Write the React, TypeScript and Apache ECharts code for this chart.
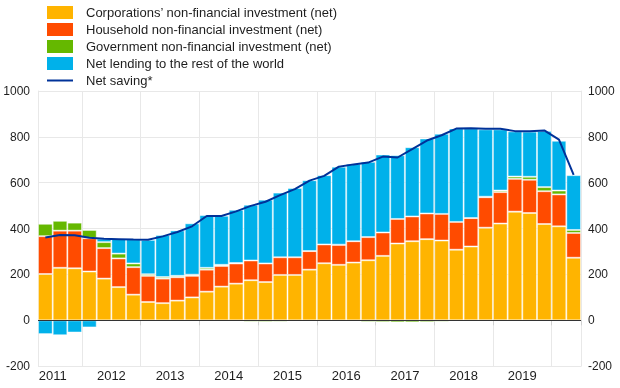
import React, { useEffect, useRef } from "react";
import * as echarts from "echarts";

const categories = [
  "2011Q2", "2011Q3", "2011Q4",
  "2012Q1", "2012Q2", "2012Q3", "2012Q4",
  "2013Q1", "2013Q2", "2013Q3", "2013Q4",
  "2014Q1", "2014Q2", "2014Q3", "2014Q4",
  "2015Q1", "2015Q2", "2015Q3", "2015Q4",
  "2016Q1", "2016Q2", "2016Q3", "2016Q4",
  "2017Q1", "2017Q2", "2017Q3", "2017Q4",
  "2018Q1", "2018Q2", "2018Q3", "2018Q4",
  "2019Q1", "2019Q2", "2019Q3", "2019Q4",
  "2020Q1", "2020Q2",
];

const corporations = [202, 229, 227, 213, 182, 145, 112, 80, 75, 86, 100, 125, 147, 160, 175, 167, 198, 198, 221, 249, 242, 252, 262, 281, 335, 345, 354, 348, 308, 322, 404, 422, 474, 468, 420, 410, 273];
const households = [165, 162, 164, 145, 133, 125, 120, 114, 107, 102, 94, 96, 90, 88, 86, 81, 77, 77, 81, 82, 87, 93, 101, 102, 107, 108, 112, 116, 121, 124, 133, 137, 143, 145, 143, 139, 108];
const government = [54, 43, 35, 36, 26, 21, 16, 7, 7, 6, 5, 8, 5, 2, -6, -7, -6, -2, 0, 0, 1, 0, -7, -8, -9, -9, -8, -6, -2, 0, 2, 7, 10, 13, 18, 17, 13];
const netLending = [-60, -65, -53, -31, 15, 65, 106, 150, 183, 198, 224, 230, 214, 232, 243, 278, 282, 302, 309, 302, 340, 338, 328, 340, 278, 302, 327, 350, 408, 391, 294, 267, 197, 197, 245, 217, 239];
const netSaving = [361, 372, 371, 360, 356, 354, 352, 351, 366, 385, 410, 455, 455, 475, 499, 517, 546, 572, 609, 630, 670, 680, 688, 714, 710, 747, 784, 807, 836, 838, 835, 835, 825, 824, 828, 788, 634];

const yTicks = { min: -200, max: 1000, interval: 200 };
const yearLabels = ["2011", "2012", "2013", "2014", "2015", "2016", "2017", "2018", "2019"];

const names = [
  "Corporations\u2019 non-financial investment (net)",
  "Household non-financial investment (net)",
  "Government non-financial investment (net)",
  "Net lending to the rest of the world",
  "Net saving*",
];
const colors = ["#FFB400", "#FF4B00", "#65B800", "#00B1EA", "#003299"];

const FONT = "'Liberation Sans', Arial, sans-serif";
const TEXT = "#1e1e1e";
const GRID = "#e8e8e8";

export default function App() {
  const ref = useRef<HTMLDivElement>(null);
  useEffect(() => {
    if (!ref.current) return;
    const chart = echarts.init(ref.current, undefined, { renderer: "svg" });
    const yearBoundary = (i: number) => i % 4 === 3;
    const barStyle = (c: string) => ({
      color: c,
      borderColor: "rgba(255,255,255,0.45)",
      borderWidth: 1,
    });
    const barSeries = [corporations, households, government, netLending].map((d, k) => ({
      name: names[k],
      type: "bar",
      stack: "total",
      data: d,
      barCategoryGap: "0%",
      itemStyle: barStyle(colors[k]),
      emphasis: { disabled: true },
    }));
    chart.setOption({
      animation: false,
      textStyle: { fontFamily: FONT },
      legend: {
        orient: "vertical",
        left: 47,
        top: 6,
        padding: 0,
        itemWidth: 26,
        itemHeight: 13,
        itemGap: 4,
        symbolKeepAspect: true,
        itemStyle: { borderWidth: 0 },
        textStyle: { fontSize: 13, color: TEXT, fontFamily: FONT, padding: [0, 0, 0, 8] },
        data: [
          { name: names[0], icon: "rect" },
          { name: names[1], icon: "rect" },
          { name: names[2], icon: "rect" },
          { name: names[3], icon: "rect" },
          { name: names[4], icon: "path://M0,0H26V2H0Z" },
        ],
        selectedMode: false,
      },
      grid: { left: 38, right: 39, top: 91, bottom: 21.8, containLabel: false },
      xAxis: {
        type: "category",
        data: categories,
        boundaryGap: true,
        axisLine: { show: false },
        axisTick: {
          show: true,
          interval: yearBoundary,
          length: 5,
          lineStyle: { color: "#d0d0d0" },
        },
        splitLine: { show: true, interval: yearBoundary, lineStyle: { color: GRID, width: 1 } },
        axisLabel: {
          interval: (i: number) => i % 4 === 0 && yearLabels.includes(categories[i].slice(0, 4)),
          formatter: (v: string) => v.slice(0, 4),
          fontSize: 13,
          color: TEXT,
          fontFamily: FONT,
          margin: 3,
          padding: [0, 0, 0, 14.7],
        },
      },
      yAxis: [
        {
          type: "value",
          position: "left",
          ...yTicks,
          axisLine: { show: true, lineStyle: { color: GRID } },
          axisTick: { show: false },
          splitLine: { show: true, lineStyle: { color: GRID } },
          axisLabel: { fontSize: 12, color: TEXT, fontFamily: FONT, margin: 8, formatter: (v: number) => String(v) },
        },
        {
          type: "value",
          position: "right",
          ...yTicks,
          axisLine: { show: true, lineStyle: { color: GRID } },
          axisTick: { show: false },
          splitLine: { show: false },
          axisLabel: { fontSize: 12, color: TEXT, fontFamily: FONT, margin: 7, formatter: (v: number) => String(v) },
        },
      ],
      series: [
        ...barSeries,
        {
          name: names[4],
          type: "line",
          data: netSaving,
          symbol: "none",
          showSymbol: false,
          z: 5,
          lineStyle: { color: colors[4], width: 2 },
          itemStyle: { color: colors[4] },
          emphasis: { disabled: true },
          markLine: {
            silent: true,
            symbol: ["none", "none"],
            label: { show: false },
            lineStyle: { color: "#333", width: 1, type: "solid" },
            data: [{ yAxis: 0 }],
          },
        },
      ],
    });
    return () => chart.dispose();
  }, []);
  return (
    <div
      ref={ref}
      style={{ position: "fixed", left: 0, top: 0, width: 620, height: 388 }}
    />
  );
}
